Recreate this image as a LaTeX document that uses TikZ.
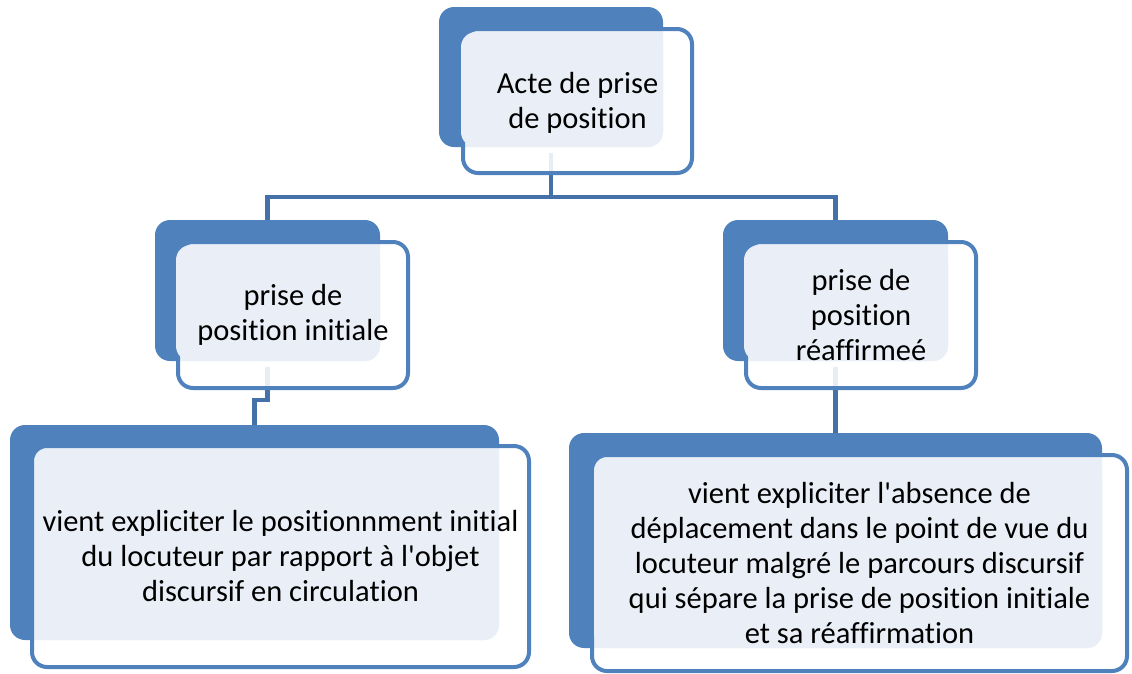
\documentclass[tikz,border=0pt]{standalone}
\usepackage{fontspec}
\setmainfont{Carlito}[Ligatures={NoCommon}]
\usepackage{xcolor}
\usetikzlibrary{positioning}
\definecolor{boxblue}{HTML}{4F81BD}
\definecolor{boxlight}{HTML}{EAEFF7}
\definecolor{linkblue}{HTML}{4472A8}

\begin{document}
\begin{tikzpicture}[x=1pt, y=-1pt,
  backbox/.style={fill=boxblue, rounded corners=15pt, inner sep=0pt},
  frontbox/.style={draw=boxblue, line width=4pt, fill=white, fill opacity=0.88, rounded corners=15pt, inner sep=0pt},
  lightbox/.style={fill=boxlight, rounded corners=15pt, inner sep=0pt},
  boxtext/.style={align=center, font=\fontsize{30.5}{35}\selectfont, text=black},
  link/.style={draw=linkblue, line width=4.5pt}]
\useasboundingbox (0,0) rectangle (1132,673);

% back plates
\node[backbox, minimum width=224pt, minimum height=140pt] (actB) at (551,77) {};
\node[backbox, minimum width=225pt, minimum height=141pt] (initB) at (267.5,290.5) {};
\node[backbox, minimum width=225pt, minimum height=141pt] (reafB) at (835.5,290.5) {};
\node[backbox, minimum width=489pt, minimum height=215pt] (initdB) at (254.5,532.5) {};
\node[backbox, minimum width=533pt, minimum height=215pt] (reafdB) at (835.5,540.5) {};

% links
\draw[link] ([yshift=-6pt]actB.south) -- ++(0,44) -| (initB.north);
\draw[link] ([yshift=-6pt]actB.south) -- ++(0,44) -| (reafB.north);
\draw[link] ([yshift=-6pt]initB.south) -- ++(0,33) -| (initdB.north);
\draw[link] ([yshift=-6pt]reafB.south) -- (reafdB.north);

% front boxes
\node[frontbox, minimum width=229pt, minimum height=144pt] (actF) at (577.5,101) {};
\node[frontbox, minimum width=230pt, minimum height=146pt] (initF) at (293,315) {};
\node[frontbox, minimum width=230pt, minimum height=146pt] (reafF) at (861,315) {};
\node[frontbox, minimum width=497pt, minimum height=221pt] (initdF) at (280.5,556.5) {};
\node[frontbox, minimum width=535pt, minimum height=216pt] (reafdF) at (859.5,563) {};

% light panels
\node[lightbox, minimum width=202pt, minimum height=115pt] (actL) at (562,89.5) {};
\node[lightbox, minimum width=204pt, minimum height=116pt] (initL) at (278,303) {};
\node[lightbox, minimum width=204pt, minimum height=116pt] (reafL) at (846,303) {};
\node[lightbox, minimum width=464pt, minimum height=191pt] (initdL) at (267,544.5) {};
\node[lightbox, minimum width=508pt, minimum height=190pt] (reafdL) at (848,553) {};

% texts
\node[boxtext] (act) at ([yshift=-2pt]actF) {Acte de prise\\de position};
\node[boxtext] (init) at (initF) {prise de\\position initiale};
\node[boxtext] (reaf) at (reafF) {prise de\\position\\réaffirmeé};
\node[boxtext] (initd) at (initdF) {vient expliciter le positionnment initial\\du locuteur par rapport à l\textquotesingle objet\\discursif en circulation};
\node[boxtext] (reafd) at (reafdF) {vient expliciter l\textquotesingle absence de\\déplacement dans le point de vue du\\locuteur malgré le parcours discursif\\qui sépare la prise de position initiale\\et sa réaffirmation};
\end{tikzpicture}
\end{document}
